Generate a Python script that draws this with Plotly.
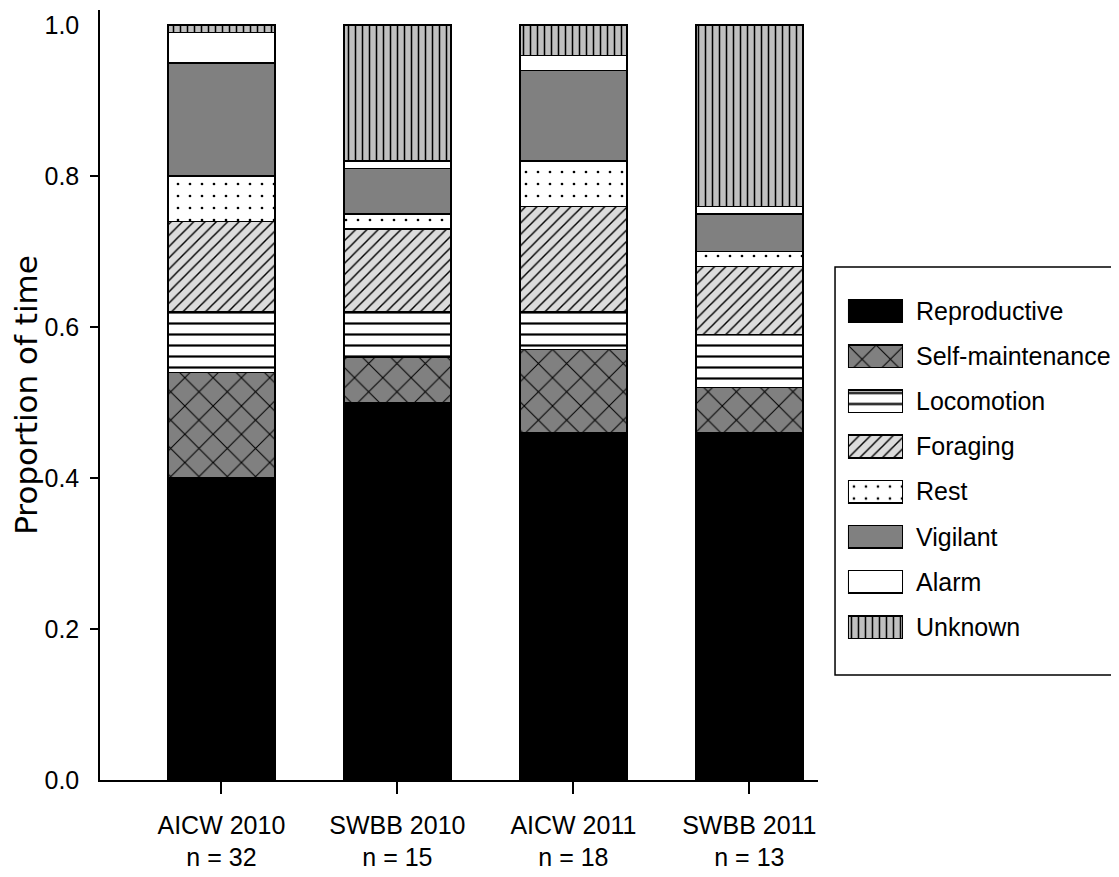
import plotly.graph_objects as go

# ------------------------------------------------------------------------------------------
# ------------------------------------- Data -----------------------------------------------
# ------------------------------------------------------------------------------------------
sites = ['AICW 2010', 'SWBB 2010', 'AICW 2011', 'SWBB 2011']
n_obs = [32, 15, 18, 13]

behaviours = ['Reproductive', 'Self-maintenance', 'Locomotion', 'Foraging',
              'Rest', 'Vigilant', 'Alarm', 'Unknown']

reproductive = [0.40, 0.50, 0.46, 0.46]
self_maintenance = [0.14, 0.06, 0.11, 0.06]
locomotion = [0.08, 0.06, 0.05, 0.07]
foraging = [0.12, 0.11, 0.14, 0.09]
rest = [0.06, 0.02, 0.06, 0.02]
vigilant = [0.15, 0.06, 0.12, 0.05]
alarm = [0.04, 0.01, 0.02, 0.01]
unknown = [0.01, 0.18, 0.04, 0.24]

y_ticks = [0.0, 0.2, 0.4, 0.6, 0.8, 1.0]
y_tick_marks = [0.2, 0.4, 0.6, 0.8]  # the end labels have no tick mark

# ------------------------------------------------------------------------------------------
# ------------------------------------- Styles ---------------------------------------------
# ------------------------------------------------------------------------------------------
values = [reproductive, self_maintenance, locomotion, foraging, rest, vigilant, alarm, unknown]
fill = ['#000000', '#808080', '#ffffff', '#dcdcdc', '#ffffff', '#808080', '#ffffff', '#c0c0c0']
shape = ['', 'x', '-', '/', '.', '', '', '|']
size = [8, 20, 11, 8, 12, 8, 8, 7]
solidity = [0.3, 0.1, 0.2, 0.18, 0.04, 0.3, 0.3, 0.22]

font_main = 'Liberation Sans, Arial, sans-serif'
labels = [f'{s}<br>n = {n}' for s, n in zip(sites, n_obs)]


def bar_marker(i):
    '''Black-edged fill with the hatch pattern of behaviour i'''
    return dict(
        color=fill[i],
        line=dict(color='black', width=1.5),
        pattern=dict(shape=shape[i], fgcolor='black', bgcolor=fill[i],
                     size=size[i], solidity=solidity[i], fillmode='replace'),
    )


fig = go.Figure()

# stacked bars
for i, name in enumerate(behaviours):
    fig.add_trace(go.Bar(x=labels, y=values[i], name=name,
                         marker=bar_marker(i), showlegend=False))

# legend drawn as an inset of horizontal swatches (large patterned boxes)
for i, name in enumerate(behaviours):
    fig.add_trace(go.Bar(x=[1], y=[name], orientation='h', width=0.5,
                         xaxis='x2', yaxis='y2', marker=bar_marker(i),
                         showlegend=False, hoverinfo='skip'))

# ------------------------------------------------------------------------------------------
# ------------------------------------- Layout ---------------------------------------------
# ------------------------------------------------------------------------------------------
# the page body has an 8px margin, so the margins below are shifted by that much
fig.update_layout(
    width=1119,
    height=877,
    barmode='stack',
    bargap=0.392,
    plot_bgcolor='white',
    paper_bgcolor='white',
    margin=dict(l=92, r=0, t=2, b=105, autoexpand=False),
    font=dict(family=font_main, size=25, color='black'),
    xaxis=dict(
        domain=[0, 0.6991],
        range=[-0.69, 3.39],
        showline=True, linecolor='black', linewidth=1.5,
        ticks='outside', ticklen=12, tickcolor='black', tickwidth=1.5,
        showgrid=False, zeroline=False,
        tickfont=dict(family=font_main, size=25),
        ticklabelstandoff=10,
    ),
    yaxis=dict(
        range=[0, 1.02],
        tickvals=y_ticks,
        ticktext=[f'{v:.1f}' for v in y_ticks],
        showline=True, linecolor='black', linewidth=1.5,
        ticks='',
        minor=dict(tickvals=y_tick_marks, ticks='outside', ticklen=8,
                   tickcolor='black', tickwidth=1.5, showgrid=False),
        showgrid=False, zeroline=False,
        tickfont=dict(family=font_main, size=25),
        ticklabelstandoff=14,
        title=dict(text='Proportion of time', standoff=20,
                   font=dict(family='DejaVu Sans', size=31)),
    ),
    xaxis2=dict(
        domain=[0.7283, 0.7819],
        range=[0, 1],
        anchor='y2',
        visible=False,
    ),
    yaxis2=dict(
        domain=[0.1693, 0.6383],
        anchor='x2',
        side='right',
        categoryorder='array',
        categoryarray=behaviours[::-1],
        range=[-0.5, 7.5],
        showline=False, showgrid=False, zeroline=False,
        ticks='',
        tickfont=dict(family=font_main, size=25),
        ticklabelstandoff=12,
    ),
    shapes=[
        dict(type='rect', xref='paper', yref='paper',
             x0=0.7157, x1=1.05, y0=0.1364, y1=0.6662,
             line=dict(color='black', width=1.5), fillcolor='rgba(0,0,0,0)',
             layer='below'),
    ],
)

fig.write_html('out.html')
